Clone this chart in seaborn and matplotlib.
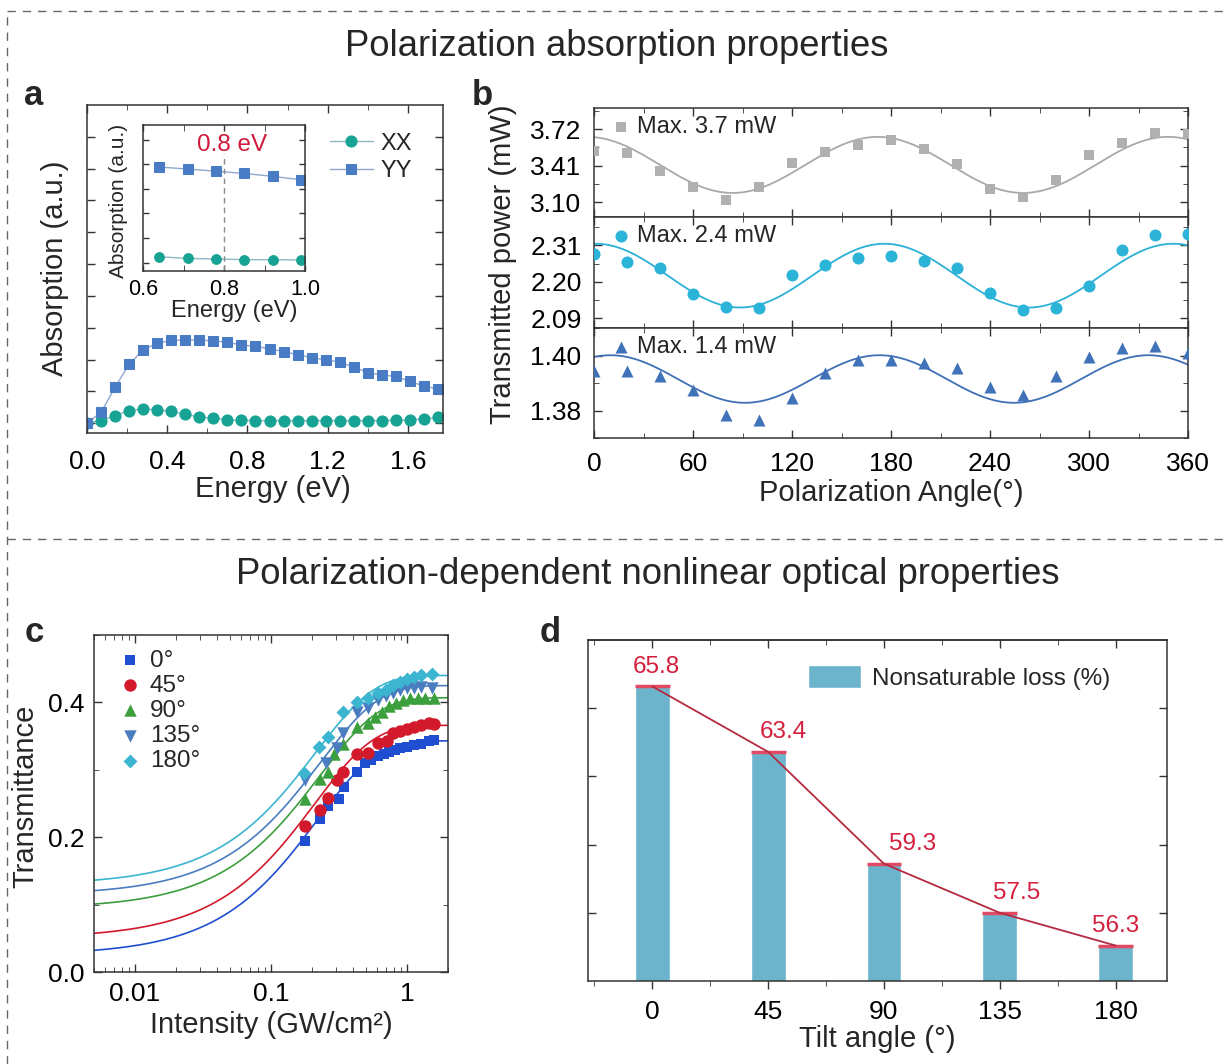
import numpy as np
import matplotlib.pyplot as plt
import seaborn as sns
from matplotlib.lines import Line2D
from matplotlib.ticker import MultipleLocator, FixedLocator, FixedFormatter, NullFormatter, FormatStrFormatter

'''
data read from the figure
'''
# a: absorption spectra (arb. units)
energy = [0.00, 0.07, 0.14, 0.21, 0.28, 0.35, 0.42, 0.49, 0.56, 0.63, 0.70, 0.77, 0.84,
          0.91, 0.98, 1.05, 1.12, 1.19, 1.26, 1.33, 1.40, 1.47, 1.54, 1.61, 1.68, 1.75]
abs_yy = [0.00, 0.34, 1.13, 1.85, 2.30, 2.51, 2.60, 2.61, 2.61, 2.59, 2.54, 2.46, 2.41,
          2.34, 2.25, 2.15, 2.06, 1.99, 1.92, 1.76, 1.59, 1.51, 1.47, 1.31, 1.17, 1.07]
abs_xx = [0.00, 0.08, 0.24, 0.39, 0.45, 0.42, 0.37, 0.28, 0.19, 0.16, 0.10, 0.09, 0.08,
          0.08, 0.08, 0.08, 0.08, 0.08, 0.08, 0.08, 0.08, 0.08, 0.09, 0.10, 0.14, 0.18]
inset_energy = [0.64, 0.71, 0.78, 0.85, 0.92, 0.99]
inset_yy = [3.89, 3.81, 3.72, 3.63, 3.51, 3.37]
inset_xx = [0.24, 0.17, 0.15, 0.12, 0.12, 0.11]

# b: transmitted power vs polarization angle
angles = [0, 20, 40, 60, 80, 100, 120, 140, 160, 180, 200, 220, 240, 260, 280, 300, 320, 340, 360]
power_37 = [3.534, 3.520, 3.367, 3.227, 3.119, 3.227, 3.435, 3.528, 3.590, 3.627,
            3.548, 3.424, 3.212, 3.148, 3.289, 3.500, 3.604, 3.692, 3.683]
power_24 = [2.285, 2.260, 2.241, 2.163, 2.123, 2.120, 2.221, 2.250, 2.272, 2.277,
            2.262, 2.241, 2.166, 2.115, 2.122, 2.186, 2.297, 2.342, 2.345]
power_14 = [1.3943, 1.3943, 1.3925, 1.3874, 1.3785, 1.3765, 1.3844, 1.3935, 1.3983, 1.3983,
            1.3973, 1.3955, 1.3886, 1.3858, 1.3925, 1.3995, 1.4028, 1.4036, 1.4010]
# cosine fit parameters: mean, amplitude, period, angle of maximum
fit_37 = [3.417, 0.238, 176, 172]
fit_24 = [2.2185, 0.0965, 175, 176]
fit_14 = [1.39145, 0.00865, 163, 173]
power_labels = ['Max. 3.7 mW', 'Max. 2.4 mW', 'Max. 1.4 mW']
power_ticks = [[3.10, 3.41, 3.72], [2.09, 2.20, 2.31], [1.38, 1.40]]

# c: transmittance vs intensity
tilt_labels = ['0°', '45°', '90°', '135°', '180°']
i_0 = [0.178, 0.231, 0.261, 0.316, 0.342, 0.428, 0.489, 0.546, 0.608, 0.674, 0.739, 0.809,
       0.886, 1.0, 1.13, 1.27, 1.44, 1.58]
t_0 = [0.195, 0.227, 0.246, 0.256, 0.275, 0.296, 0.310, 0.314, 0.320, 0.323, 0.327, 0.329,
       0.332, 0.334, 0.337, 0.339, 0.342, 0.344]
i_45 = [0.178, 0.231, 0.261, 0.307, 0.336, 0.428, 0.513, 0.616, 0.717, 0.785, 0.886, 1.0,
        1.13, 1.27, 1.44, 1.58]
t_45 = [0.217, 0.241, 0.258, 0.285, 0.297, 0.324, 0.325, 0.340, 0.342, 0.354, 0.358, 0.360,
        0.363, 0.366, 0.370, 0.368]
i_90 = [0.178, 0.231, 0.264, 0.289, 0.336, 0.428, 0.513, 0.579, 0.654, 0.739, 0.834, 0.941,
        1.06, 1.20, 1.35, 1.58]
t_90 = [0.256, 0.287, 0.297, 0.324, 0.339, 0.363, 0.369, 0.379, 0.386, 0.394, 0.399, 0.403,
        0.406, 0.407, 0.406, 0.407]
i_135 = [0.178, 0.252, 0.307, 0.340, 0.428, 0.513, 0.616, 0.695, 0.785, 0.886, 1.0, 1.13, 1.27, 1.53]
t_135 = [0.285, 0.310, 0.332, 0.354, 0.386, 0.391, 0.403, 0.409, 0.414, 0.418, 0.421, 0.422, 0.423, 0.421]
i_180 = [0.176, 0.227, 0.261, 0.336, 0.428, 0.513, 0.616, 0.695, 0.785, 0.886, 1.0, 1.13, 1.27, 1.53]
t_180 = [0.295, 0.334, 0.349, 0.386, 0.401, 0.406, 0.414, 0.419, 0.426, 0.431, 0.434, 0.438, 0.440, 0.442]
# saturable absorption fit: T = t_max - t_mod * exp(-I / i_sat)
t_max = [0.343, 0.366, 0.407, 0.425, 0.440]
t_mod = [0.318, 0.316, 0.313, 0.311, 0.311]
i_sat = [0.22, 0.21, 0.23, 0.23, 0.213]

# d: nonsaturable loss vs tilt angle
tilt = [0, 45, 90, 135, 180]
loss = [65.8, 63.4, 59.3, 57.5, 56.3]

'''
style
'''
sns.set_style('ticks')
plt.rcParams['font.family'] = ['Liberation Sans', 'DejaVu Sans']
plt.rcParams.update({
    'xtick.direction': 'in', 'ytick.direction': 'in',
    'axes.linewidth': 1.1, 'axes.edgecolor': '#333333',
    'xtick.color': '#333333', 'ytick.color': '#333333',
    'xtick.labelcolor': 'black', 'ytick.labelcolor': 'black',
    'xtick.major.size': 6, 'ytick.major.size': 6,
    'xtick.minor.size': 3.5, 'ytick.minor.size': 3.5,
    'xtick.major.width': 1.0, 'ytick.major.width': 1.0,
})
TICK = 19
LABEL = 21

W, H = 1225, 1064


def box(x0, y0, x1, y1):
    return [x0 / W, 1 - y1 / H, (x1 - x0) / W, (y1 - y0) / H]


fig = plt.figure(figsize=(12.25, 10.64), dpi=100)

'''
frame, titles and panel letters
'''
dash = dict(color='#666666', lw=1.0, ls=(0, (6, 5)), transform=fig.transFigure)
fig.add_artist(Line2D([7 / W, 1], [1 - 11 / H, 1 - 11 / H], **dash))
fig.add_artist(Line2D([7 / W, 7 / W], [0, 1 - 11 / H], **dash))
fig.add_artist(Line2D([7 / W, 1], [1 - 539 / H, 1 - 539 / H], **dash))
fig.text(617 / W, 1 - 47 / H, 'Polarization absorption properties',
         ha='center', va='center', fontsize=26.3)
fig.text(648 / W, 1 - 575 / H, 'Polarization-dependent nonlinear optical properties',
         ha='center', va='center', fontsize=26.3)
for letter, (px, py) in zip('abcd', [(34, 105), (482, 105), (34, 642), (550, 642)]):
    fig.text(px / W, 1 - py / H, letter, ha='center', va='baseline',
             fontsize=25, fontweight='bold')

'''
panel a
'''
teal, blue_a = '#17a393', '#4a7cc6'
ax = fig.add_axes(box(87, 105, 443, 433))
sns.lineplot(x=energy, y=abs_xx, ax=ax, color='#8fb8c4', lw=1.0, marker='o',
             markersize=8, markerfacecolor=teal, markeredgecolor=teal, label='XX')
sns.lineplot(x=energy, y=abs_yy, ax=ax, color='#8ea8cc', lw=1.0, marker='s',
             markersize=7.5, markerfacecolor=blue_a, markeredgecolor=blue_a, label='YY')
ax.set_xlim(0, 1.775)
ax.set_ylim(-0.31, 10)
ax.xaxis.set_major_locator(MultipleLocator(0.4))
ax.xaxis.set_minor_locator(MultipleLocator(0.2))
ax.xaxis.set_major_formatter(FormatStrFormatter('%.1f'))
ax.set_yticks(range(10))
ax.set_yticklabels([])
ax.tick_params(which='both', top=True, right=True, labelsize=TICK)
ax.tick_params(axis='x', pad=12)
ax.set_xlabel('Energy (eV)', fontsize=LABEL)
ax.set_ylabel('Absorption (a.u.)', fontsize=LABEL)
ax.xaxis.set_label_coords(0.522, -0.128)
ax.yaxis.set_label_coords(-0.05, 0.503)
ax.legend(loc='upper left', bbox_to_anchor=(0.683, 0.916), frameon=False, borderpad=0,
          borderaxespad=0, fontsize=17, handlelength=1.8, handletextpad=0.35,
          labelspacing=0.25)

# inset
ax = fig.add_axes(box(143, 125, 305, 271))
sns.lineplot(x=inset_energy, y=inset_xx, ax=ax, color='#8fb8c4', lw=1.0, marker='o',
             markersize=7, markerfacecolor=teal, markeredgecolor=teal, legend=False)
sns.lineplot(x=inset_energy, y=inset_yy, ax=ax, color='#8ea8cc', lw=1.0, marker='s',
             markersize=6.5, markerfacecolor=blue_a, markeredgecolor=blue_a, legend=False)
ax.axvline(0.8, ymin=0, ymax=0.8, color='#8a8a8a', lw=1.0, ls=(0, (4, 3)))
ax.text(0.55, 0.86, '0.8 eV', transform=ax.transAxes, ha='center', va='center',
        fontsize=17.5, color='#d0193c')
ax.set_xlim(0.6, 1.0)
ax.set_ylim(-0.34, 5.6)
ax.set_xticks([0.6, 0.8, 1.0])
ax.xaxis.set_minor_locator(MultipleLocator(0.1))
ax.xaxis.set_major_formatter(FormatStrFormatter('%.1f'))
ax.set_yticks(range(6))
ax.set_yticklabels([])
ax.tick_params(which='both', top=True, right=True, labelsize=15.5, length=4)
ax.tick_params(axis='x', pad=6)
ax.set_xlabel('Energy (eV)', fontsize=17)
ax.set_ylabel('Absorption (a.u.)', fontsize=15)
ax.xaxis.set_label_coords(0.565, -0.2)
ax.yaxis.set_label_coords(-0.09, 0.48)

'''
panel b
'''
theta = np.linspace(0, 360, 721)
b_rows = [
    (box(594, 108, 1188, 217), power_37, fit_37, '#b0b0b0', '#a9a9a9', 's', 55, (2.975, 3.90), 0.155),
    (box(594, 217, 1188, 328), power_24, fit_24, '#2bb3d8', '#2bb0d6', 'o', 75, (2.06, 2.396), 0.055),
    (box(594, 328, 1188, 438), power_14, fit_14, '#3f72b8', '#3f70b6', '^', 75, (1.370, 1.410), 0.01),
]
b_axes = []
for k, (pos, power, fit, mcol, lcol, mk, size, ylim, minor) in enumerate(b_rows):
    ax = fig.add_axes(pos)
    b_axes.append(ax)
    mean, amp, period, peak = fit
    sns.lineplot(x=theta, y=mean + amp * np.cos(2 * np.pi * (theta - peak) / period),
                 ax=ax, color=lcol, lw=1.3, legend=False)
    sns.scatterplot(x=angles, y=power, ax=ax, color=mcol, marker=mk, s=size,
                    linewidth=0, label=power_labels[k], zorder=3)
    ax.set_xlim(0, 360)
    ax.set_ylim(*ylim)
    ax.set_yticks(power_ticks[k])
    ax.yaxis.set_major_formatter(FormatStrFormatter('%.2f'))
    ax.yaxis.set_minor_locator(MultipleLocator(minor))
    ax.xaxis.set_major_locator(MultipleLocator(60))
    ax.xaxis.set_minor_locator(MultipleLocator(30))
    ax.tick_params(which='both', top=True, right=True, labelsize=TICK)
    ax.tick_params(axis='y', pad=9)
    ax.tick_params(axis='x', pad=10)
    if k < 2:
        ax.set_xticklabels([])
    ax.legend(loc='upper left', bbox_to_anchor=(0.0295, 0.925), frameon=False, borderpad=0,
              borderaxespad=0, fontsize=17, handlelength=0.8, handletextpad=0.26,
              markerscale=1)
b_axes[2].set_xlabel('Polarization Angle(°)', fontsize=LABEL)
b_axes[2].xaxis.set_label_coords(0.5, -0.37)
b_axes[1].set_ylabel('Transmitted power (mW)', fontsize=LABEL)
b_axes[1].yaxis.set_label_coords(-0.13, 0.57)

'''
panel c
'''
ax = fig.add_axes(box(94, 635, 448, 972))
ax.set_xscale('log')
c_colors = ['#1f4fd0', '#d21a2c', '#3c9f3e', '#4a7dbf', '#3bb5d0']
c_markers = ['s', 'o', '^', 'v', 'D']
c_sizes = [55, 80, 80, 80, 50]
c_data = [(i_0, t_0), (i_45, t_45), (i_90, t_90), (i_135, t_135), (i_180, t_180)]
i_fit = np.logspace(np.log10(0.005), np.log10(2.0), 300)
for k, (ii, tt) in enumerate(c_data):
    sns.lineplot(x=i_fit, y=t_max[k] - t_mod[k] * np.exp(-i_fit / i_sat[k]), ax=ax,
                 color=c_colors[k], lw=1.2, legend=False)
for k, (ii, tt) in enumerate(c_data):
    sns.scatterplot(x=ii, y=tt, ax=ax, color=c_colors[k], marker=c_markers[k],
                    s=c_sizes[k], linewidth=0, label=tilt_labels[k], zorder=3)
ax.set_xlim(0.005, 2.0)
ax.set_ylim(0, 0.5)
ax.xaxis.set_major_locator(FixedLocator([0.01, 0.1, 1]))
ax.xaxis.set_major_formatter(FixedFormatter(['0.01', '0.1', '1']))
ax.xaxis.set_minor_formatter(NullFormatter())
ax.yaxis.set_major_locator(MultipleLocator(0.2))
ax.yaxis.set_minor_locator(MultipleLocator(0.1))
ax.yaxis.set_major_formatter(FormatStrFormatter('%.1f'))
ax.tick_params(which='both', top=True, right=True, labelsize=TICK)
ax.tick_params(axis='y', pad=7)
ax.tick_params(axis='x', pad=7)
ax.set_xlabel('Intensity (GW/cm²)', fontsize=LABEL)
ax.set_ylabel('Transmittance', fontsize=LABEL)
ax.xaxis.set_label_coords(0.5, -0.115)
ax.yaxis.set_label_coords(-0.155, 0.522)
ax.legend(loc='upper left', bbox_to_anchor=(0.068, 0.957), frameon=False, borderpad=0,
          borderaxespad=0, fontsize=17.5, handlelength=1.0, handletextpad=0.3,
          labelspacing=0.13)

'''
panel d
'''
ax = fig.add_axes(box(588, 640, 1167, 981))
bar_col = '#6cb4cc'
sns.barplot(x=tilt, y=loss, ax=ax, native_scale=True, width=0.3, color=bar_col,
            saturation=1, errorbar=None, label='Nonsaturable loss (%)')
half = 0.3 * 45 / 2
ax.hlines(loss, [t - half for t in tilt], [t + half for t in tilt],
          color='#e04a62', lw=2.5, zorder=3)
sns.lineplot(x=tilt, y=loss, ax=ax, color='#b52a40', lw=1.3, legend=False, zorder=4)
label_dx = [3, 11, 21, 12, 0]
for t, v, dx in zip(tilt, loss, label_dx):
    ax.annotate(f'{v:.1f}', (t, v), xytext=(dx, 14), textcoords='offset points',
                ha='center', va='center', fontsize=17.5, color='#d41f3d')
ax.set_xlim(-25, 200)
ax.set_ylim(55, 67.5)
ax.set_xticks(tilt)
ax.set_xticklabels([str(t) for t in tilt])
ax.xaxis.set_minor_locator(FixedLocator([-22.5, 22.5, 67.5, 112.5, 157.5]))
ax.set_yticks([57.5, 60, 62.5, 65])
ax.set_yticklabels([])
ax.tick_params(axis='x', which='both', direction='out', labelsize=TICK, pad=8)
ax.tick_params(axis='y', right=True)
top = ax.secondary_xaxis('top')
top.set_xticks(tilt)
top.set_xticklabels([])
top.xaxis.set_minor_locator(FixedLocator([-22.5, 22.5, 67.5, 112.5, 157.5]))
top.tick_params(which='both', direction='in')
ax.set_xlabel('Tilt angle (°)', fontsize=LABEL)
ax.xaxis.set_label_coords(0.5, -0.13)
ax.set_ylabel('')
ax.legend(loc='upper left', bbox_to_anchor=(0.38, 0.927), frameon=False, borderpad=0,
          borderaxespad=0, fontsize=17.5, handlelength=2.2, handleheight=1.1,
          handletextpad=0.43)

plt.savefig('out.png', dpi=100)
plt.close()
